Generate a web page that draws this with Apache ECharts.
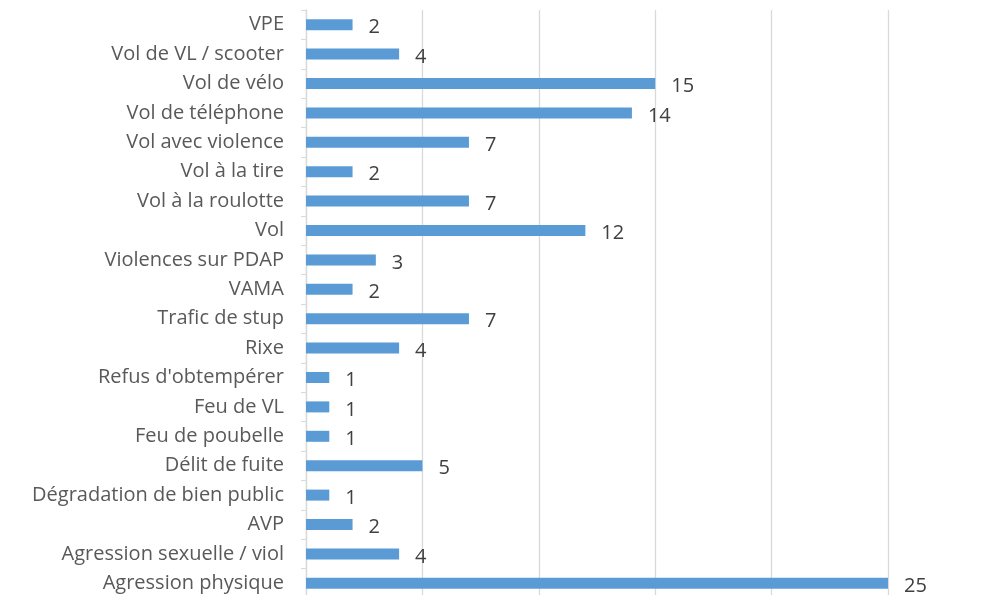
<!DOCTYPE html>
<html>
<head>
<meta charset="utf-8">
<script src="https://cdn.jsdelivr.net/npm/echarts@6/dist/echarts.min.js"></script>
<style>html,body{margin:0;padding:0;background:#fff;overflow:hidden}#c{width:989px;height:598px}</style>
</head>
<body>
<div id="c"></div>
<script>
const categories = ["Agression physique","Agression sexuelle / viol","AVP","Dégradation de bien public","Délit de fuite","Feu de poubelle","Feu de VL","Refus d'obtempérer","Rixe","Trafic de stup","VAMA","Violences sur PDAP","Vol","Vol à la roulotte","Vol à la tire","Vol avec violence","Vol de téléphone","Vol de vélo","Vol de VL / scooter","VPE"];
const values = [25,4,2,1,5,1,1,1,4,7,2,3,12,7,2,7,14,15,4,2];
const xTicks = {min:0, max:25, interval:5};

const chart = echarts.init(document.getElementById('c'));
chart.setOption({
  animation:false,
  grid:{left:306, top:10, width:582, height:588, containLabel:false},
  xAxis:{type:'value', min:xTicks.min, max:xTicks.max, interval:xTicks.interval,
    axisLine:{show:false}, axisTick:{show:false}, axisLabel:{show:false},
    splitLine:{lineStyle:{color:'#d9d9d9', width:1.3}}},
  yAxis:{type:'category', data:categories,
    axisLine:{lineStyle:{color:'#d9d9d9', width:1.3}},
    axisTick:{show:true, length:5, alignWithLabel:false, lineStyle:{color:'#d9d9d9'}},
    axisLabel:{color:'#595959', fontSize:20, fontFamily:'Open Sans', margin:22}},
  series:[{type:'bar', data:values, barWidth:11,
    itemStyle:{color:'#5B9BD5'},
    label:{show:true, position:'right', distance:16, color:'#404040', fontSize:20, fontFamily:'Open Sans', offset:[0,3]}}]
});
</script>
</body>
</html>
